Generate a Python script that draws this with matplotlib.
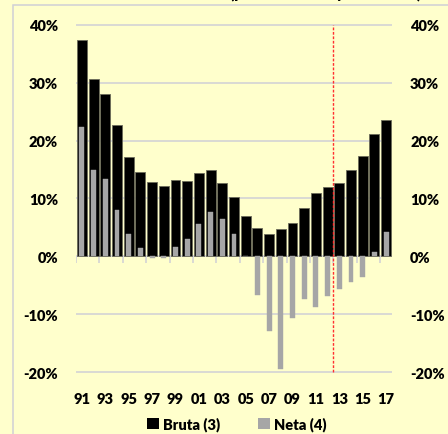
import numpy as np
import matplotlib.pyplot as plt
from matplotlib.patches import Patch, Rectangle

plt.rcParams['font.family'] = ['Lato', 'DejaVu Sans']
plt.rcParams['font.weight'] = 'heavy'

# Data (percent), 1991-2017
years = list(range(1991, 2018))
bruta = [37.4, 30.7, 28.1, 22.7, 17.2, 14.5, 12.8, 12.1, 13.2, 13.0,
         14.4, 15.0, 12.6, 10.2, 6.9, 4.9, 3.8, 4.8, 5.8, 8.4,
         10.9, 11.9, 12.6, 14.9, 17.3, 21.1, 23.6]
neta = [22.4, 14.9, 13.4, 8.0, 3.8, 1.4, -0.3, -0.3, 1.7, 3.0,
        5.6, 7.6, 6.5, 3.9, 0.0, -6.6, -12.8, -19.4, -10.6, -7.3,
        -8.7, -6.8, -5.6, -4.5, -3.5, 0.8, 4.3]
yticks = [-20, -10, 0, 10, 20, 30, 40]
split_year = 2012.5  # red dashed marker between 2012 and 2013

bg = '#FFFFCC'
grid_c = '#D0D0D6'
fs = 10.5

fig = plt.figure(figsize=(4.48, 4.35), dpi=100, facecolor=bg)
ax = fig.add_axes([76/448, 1 - 375/435, 316/448, 351/435])
ax.set_facecolor(bg)
ax.set_axisbelow(True)

x = np.arange(len(years))
ax.bar(x, bruta, width=0.85, color='black', edgecolor='#6b6b5a', linewidth=0.6, zorder=3)
ax.bar(x, neta, width=0.42, color='#A6A6A6', edgecolor='#A6A6A6', linewidth=0.3, zorder=4)

ax.set_xlim(-0.5, len(years) - 0.5)
ax.set_ylim(-20.3, 40.3)
ax.set_yticks(yticks)
ax.yaxis.grid(True, color=grid_c, linewidth=1.1)
ax.xaxis.grid(False)
# category tick marks on the zero line, every two years
bounds = np.arange(-0.5, len(years), 2)
ax.vlines(bounds, -1.1, 0, color=grid_c, linewidth=1.1, zorder=2)

sx = years.index(int(split_year)) + 0.5
ax.plot([sx, sx], [-20, 40], color='#FF3030', linestyle=(0, (2, 1.2)), linewidth=1.0, zorder=5)

for s in ax.spines.values():
    s.set_visible(False)

ax.set_yticklabels([f'{v}%' for v in yticks], fontsize=fs, fontweight='heavy')
ax.tick_params(axis='y', length=0, pad=13, labelright=True, right=False)

ax.set_xticks(x[::2])
ax.set_xticklabels([f'{y % 100:02d}' for y in years[::2]], fontsize=fs, fontweight='heavy')
ax.tick_params(axis='x', length=0, pad=13)

# outer chart border (cropped)
fig.add_artist(Rectangle((13/448, -0.1), 1.2, 1 - 6/435 + 0.1, transform=fig.transFigure,
                         facecolor='none', edgecolor=grid_c, linewidth=1.1))

# cropped title at the top edge
fig.text(326/448, 1.003, '(por ciento PIB y tasa anual)', ha='center', va='baseline',
         fontsize=11, fontweight='heavy')

handles = [Patch(facecolor='black', label='Bruta (3)'),
           Patch(facecolor='#A6A6A6', label='Neta (4)')]
fig.legend(handles=handles, loc='center', bbox_to_anchor=(237/448, 1 - 425/435), ncol=2,
           frameon=False, handlelength=0.8, handleheight=0.8,
           handletextpad=0.3, columnspacing=2.6, prop={'weight': 'heavy', 'size': fs})

fig.savefig('out.png', dpi=100, facecolor=bg)
